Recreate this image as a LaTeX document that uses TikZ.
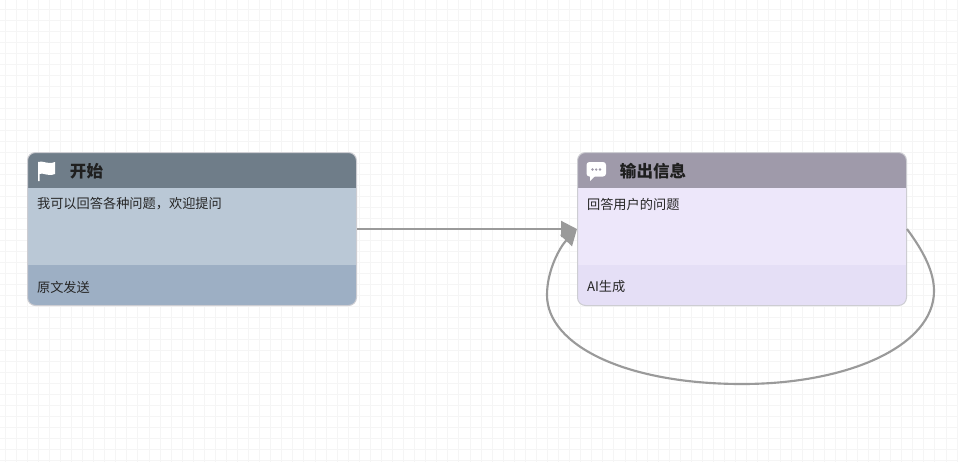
\documentclass[tikz,border=0pt]{standalone}
\usepackage{fontspec}
\usepackage{xcolor}
\usepackage{tikz}
\usetikzlibrary{arrows.meta}
\setmainfont{Noto Sans CJK SC}
\setsansfont{Noto Sans CJK SC}
\definecolor{gridline}{HTML}{F5F5F5}
\definecolor{wire}{HTML}{9A9A9A}
\definecolor{edgecard}{HTML}{CDCDD2}
\definecolor{starthead}{HTML}{6F7D89}
\definecolor{startbody}{HTML}{BAC8D6}
\definecolor{startfoot}{HTML}{9DAFC4}
\definecolor{msghead}{HTML}{9F9AAA}
\definecolor{msgbody}{HTML}{EDE7FA}
\definecolor{msgfoot}{HTML}{E5DFF6}
\tikzset{
    card/.style={draw=edgecard,line width=0.75pt,rounded corners=6pt,minimum width=246.75pt,minimum height=114.75pt,inner sep=0pt},
    cardtitle/.style={anchor=west,inner sep=0pt,font=\fontsize{12.4}{12.4}\selectfont\bfseries,text=black!88},
    cardtext/.style={anchor=west,inner sep=0pt,font=\fontsize{9.9}{10}\selectfont,text=black!85},
    link/.style={draw=wire,line width=1.6pt}
}
\begin{document}
\begin{tikzpicture}[x=0.75pt,y=-0.75pt]
\useasboundingbox (0,0) rectangle (958,462);
\fill[white] (0,0) rectangle (958,462);

% Background grid
\foreach \x in {0,...,86} {
    \draw[gridline,line width=0.6pt] (5+11.07*\x,0) -- (5+11.07*\x,462);
}
\foreach \y in {0,...,41} {
    \draw[gridline,line width=0.6pt] (0,9.3+11*\y) -- (958,9.3+11*\y);
}

% Start card
\begin{scope}
    \clip[rounded corners=6pt] (27.5,152.5) rectangle (356.5,305.5);
    \fill[startbody] (27.5,152.5) rectangle (356.5,305.5);
    \fill[starthead] (27.5,152.5) rectangle (356.5,188);
    \fill[startfoot] (27.5,265) rectangle (356.5,305.5);
\end{scope}
\node[card] (start) at (192,229) {};
\fill[white] (38,162) .. controls (43,160) and (47,165) .. (55,162) -- (55,174) .. controls (47,177) and (43,172) .. (39.5,174) -- (39.5,181) -- (38,181) -- cycle;
\node[cardtitle] (starttitle) at (69.7,171) {开始};
\node[cardtext] (starttext) at (36.8,204) {我可以回答各种问题，欢迎提问};
\node[cardtext] (startmode) at (36.8,287) {原文发送};

% Output card
\begin{scope}
    \clip[rounded corners=6pt] (577.5,152.5) rectangle (906.5,305.5);
    \fill[msgbody] (577.5,152.5) rectangle (906.5,305.5);
    \fill[msghead] (577.5,152.5) rectangle (906.5,188);
    \fill[msgfoot] (577.5,265) rectangle (906.5,305.5);
\end{scope}
\node[card] (msg) at (742,229) {};
\fill[white,rounded corners=2.2pt] (586.5,162) rectangle (606,176.5);
\fill[white] (590,175) -- (590,181) -- (596,175) -- cycle;
\foreach \x in {592.5,596.2,600} {
    \fill[msghead] (\x,169.5) circle (1.3);
}
\node[cardtitle] (msgtitle) at (619.7,171) {输出信息};
\node[cardtext] (msgtext) at (586.8,204) {回答用户的问题};
\node[cardtext] (msgmode) at (586.8,287) {AI生成};

% Connectors
\draw[link,-{Triangle[length=12pt,width=12pt]}] (start.east) -- (msg.west);
\draw[link,-{Triangle[length=12pt,width=12pt]}] (msg.east) .. controls (924,252) and (934,272) .. (934,291)
    .. controls (934,345) and (850,384) .. (742,384)
    .. controls (625,384) and (547,345) .. (547,295)
    .. controls (547,270) and (560,247) .. (msg.west);
\end{tikzpicture}
\end{document}
